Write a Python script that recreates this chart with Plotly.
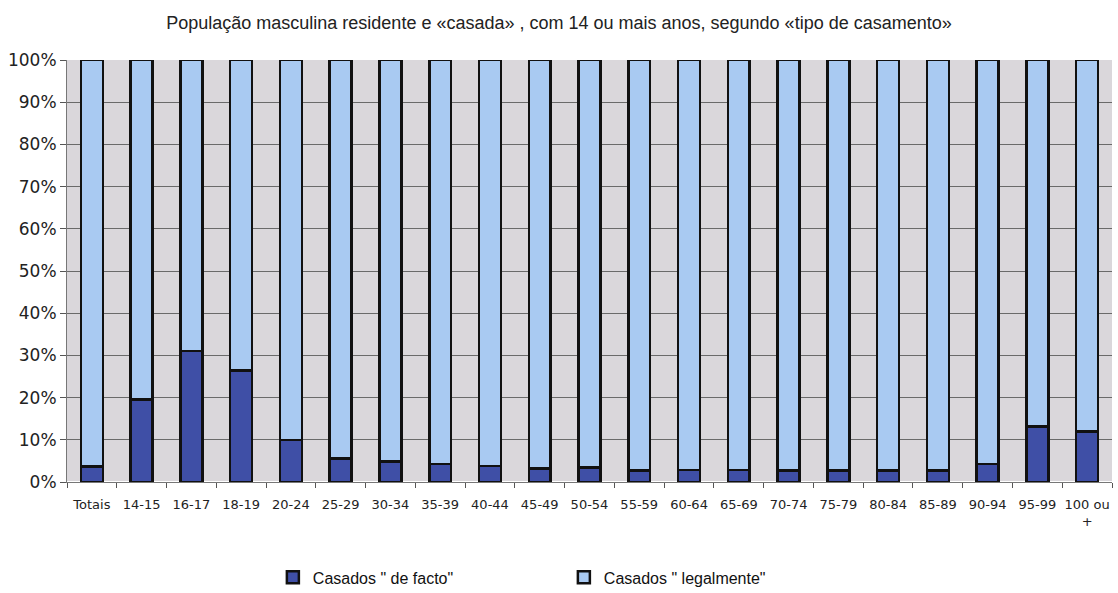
import plotly.graph_objects as go

# Age groups (first entry is the overall total)
grupos = ["Totais", "14-15", "16-17", "18-19", "20-24", "25-29", "30-34", "35-39",
          "40-44", "45-49", "50-54", "55-59", "60-64", "65-69", "70-74", "75-79",
          "80-84", "85-89", "90-94", "95-99", "100 ou<br>+"]

# Share of married men by type of marriage (%)
de_facto = [3.7, 19.6, 31.0, 26.4, 10.0, 5.6, 4.8, 4.3, 3.8, 3.2, 3.4, 2.7,
            2.9, 2.9, 2.7, 2.7, 2.7, 2.7, 4.3, 13.1, 12.0]
legalmente = [96.3, 80.4, 69.0, 73.6, 90.0, 94.4, 95.2, 95.7, 96.2, 96.8, 96.6, 97.3,
              97.1, 97.1, 97.3, 97.3, 97.3, 97.3, 95.7, 86.9, 88.0]

titulo = "População masculina residente e «casada» , com 14 ou mais anos, segundo «tipo de casamento»"

fig = go.Figure()
fig.add_trace(go.Bar(
    x=grupos, y=de_facto, name='Casados " de facto"',
    marker=dict(color="#3f4fa6", line=dict(color="#111111", width=2.5)),
))
fig.add_trace(go.Bar(
    x=grupos, y=legalmente, name='Casados " legalmente"',
    marker=dict(color="#a9caf2", line=dict(color="#111111", width=2.5)),
))

fig.update_layout(
    barmode="stack",
    bargap=0.56,
    width=1118, height=593,
    margin=dict(l=67, r=6, t=60, b=111, autoexpand=False),
    paper_bgcolor="white",
    plot_bgcolor="#dad7db",
    title=dict(text=titulo, x=0.5, xanchor="center", y=0.962, yanchor="middle",
               font=dict(family="Liberation Sans", size=18, color="#222222")),
    font=dict(family="DejaVu Sans", color="#222222"),
    showlegend=True,
    legend=dict(orientation="h", traceorder="normal",
                x=0.197, xanchor="left", y=-0.226, yanchor="middle",
                entrywidth=246, entrywidthmode="pixels",
                font=dict(family="Liberation Sans", size=16, color="#111111"),
                bgcolor="rgba(0,0,0,0)"),
    xaxis=dict(
        tickfont=dict(family="DejaVu Sans", size=13, color="#222222"),
        tickson="boundaries", ticks="outside", ticklen=5, tickcolor="#555555",
        ticklabelstandoff=10,
        showline=True, linecolor="#777777", linewidth=1,
        showgrid=False, tickangle=0,
    ),
    yaxis=dict(
        range=[0, 100], dtick=10, ticksuffix="%",
        tickfont=dict(family="DejaVu Sans", size=17, color="#222222"),
        ticks="outside", ticklen=6, tickcolor="#555555",
        showline=True, linecolor="#777777", linewidth=1,
        showgrid=True, gridcolor="#6a6a6a", gridwidth=1,
    ),
)

fig.write_html("out.html")
